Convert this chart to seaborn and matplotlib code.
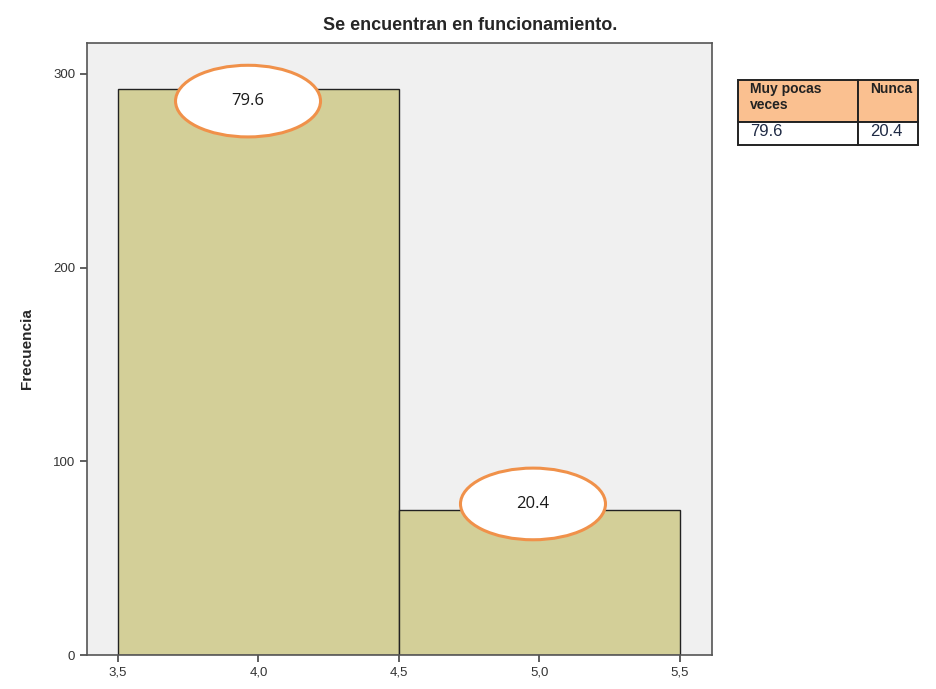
import matplotlib
matplotlib.use("Agg")
import matplotlib.pyplot as plt
import seaborn as sns
from matplotlib.patches import Ellipse, Rectangle

# data
valores = [4.0, 5.0]
frecuencias = [292, 75]
bordes = [3.5, 4.5, 5.5]
porcentajes = ["79.6", "20.4"]
tabla_cols = ["Muy pocas\nveces", "Nunca"]
xticks = [3.5, 4.0, 4.5, 5.0, 5.5]
yticks = [0, 100, 200, 300]

sns.set_style("white")
plt.rcParams['font.family'] = ['Liberation Sans', 'DejaVu Sans']

fig = plt.figure(figsize=(9.36, 6.89), dpi=100)
ax = fig.add_axes([87 / 936, 1 - 655 / 689, (712 - 87) / 936, (655 - 43) / 689])
ax.set_facecolor("#f0f0f0")

sns.histplot(x=valores, weights=frecuencias, bins=bordes, ax=ax,
             color="#d3cf98", edgecolor="#222222", linewidth=1.0, alpha=1)

ax.set_xlim(3.39, 5.614)
ax.set_ylim(0, 316)
ax.set_xticks(xticks)
ax.set_xticklabels([f"{t:.1f}".replace(".", ",") for t in xticks])
ax.set_yticks(yticks)
ax.tick_params(axis="both", direction="out", length=5, width=1.2, color="#444444",
               labelsize=9.5, labelcolor="#333333", bottom=True, left=True)
for s in ax.spines.values():
    s.set_color("#555555")
    s.set_linewidth(1.2)
ax.set_xlabel("")
ax.set_ylabel("Frecuencia", fontsize=11, fontweight="bold", labelpad=14)

# elipses con los porcentajes (desplazamiento respecto al borde de la barra)
desp_x = [-0.037, -0.023]
desp_y = [-6, 3]
for xc, yc, dx, dy, txt in zip(valores, frecuencias, desp_x, desp_y, porcentajes):
    el = Ellipse((xc + dx, yc + dy), 0.516, 37, facecolor="white",
                 edgecolor="#f0914a", linewidth=2.2, zorder=5, clip_on=False)
    ax.add_patch(el)
    ax.text(xc + dx, yc + dy, txt, ha="center", va="center", fontsize=12,
            color="#1a1a1a", zorder=6, family=["Open Sans", "DejaVu Sans"])

fig.text(470 / 936, 1 - 25 / 689, "Se encuentran en funcionamiento.",
         ha="center", va="center", fontsize=13, fontweight="bold")

# tabla de porcentajes, en pixeles de la figura
tax = fig.add_axes([0, 0, 1, 1])
tax.set_xlim(0, 936)
tax.set_ylim(689, 0)
tax.axis("off")
col_x = [738, 858, 918]
fila_y = [80, 122, 145]
for i in range(2):
    tax.add_patch(Rectangle((col_x[i], fila_y[0]), col_x[i + 1] - col_x[i],
                            fila_y[1] - fila_y[0], facecolor="#fac090",
                            edgecolor="#222222", linewidth=1.4))
    tax.add_patch(Rectangle((col_x[i], fila_y[1]), col_x[i + 1] - col_x[i],
                            fila_y[2] - fila_y[1], facecolor="white",
                            edgecolor="#222222", linewidth=1.4))
    tax.text(col_x[i] + 12, fila_y[0] + 2, tabla_cols[i], ha="left", va="top",
             fontsize=10, fontweight="bold", color="#222222", linespacing=1.15)
    tax.text(col_x[i] + 12, fila_y[1] + 9, porcentajes[i], ha="left", va="center",
             fontsize=12, color="#1f2a44")

fig.savefig("out.png", dpi=100)
